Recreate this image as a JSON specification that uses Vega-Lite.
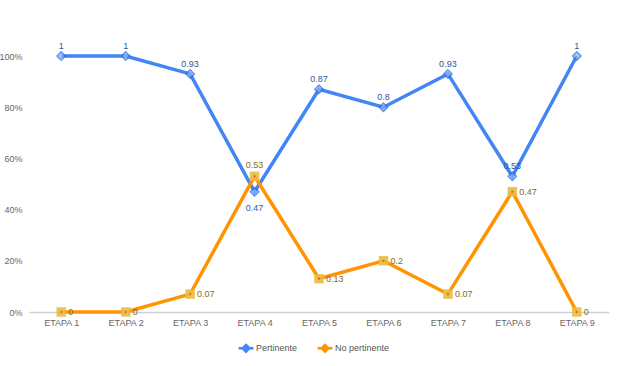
{
  "$schema": "https://vega.github.io/schema/vega-lite/v6.json",
  "width": 580,
  "height": 256,
  "autosize": {"type": "none"},
  "padding": {"left": 29, "top": 56, "right": 11, "bottom": 54},
  "background": "white",
  "config": {
    "view": {"stroke": null},
    "font": "Liberation Sans"
  },
  "data": {
    "values": [
      {"etapa": "ETAPA 1", "serie": "Pertinente", "valor": 1},
      {"etapa": "ETAPA 2", "serie": "Pertinente", "valor": 1},
      {"etapa": "ETAPA 3", "serie": "Pertinente", "valor": 0.93},
      {"etapa": "ETAPA 4", "serie": "Pertinente", "valor": 0.47},
      {"etapa": "ETAPA 5", "serie": "Pertinente", "valor": 0.87},
      {"etapa": "ETAPA 6", "serie": "Pertinente", "valor": 0.8},
      {"etapa": "ETAPA 7", "serie": "Pertinente", "valor": 0.93},
      {"etapa": "ETAPA 8", "serie": "Pertinente", "valor": 0.53},
      {"etapa": "ETAPA 9", "serie": "Pertinente", "valor": 1},
      {"etapa": "ETAPA 1", "serie": "No pertinente", "valor": 0},
      {"etapa": "ETAPA 2", "serie": "No pertinente", "valor": 0},
      {"etapa": "ETAPA 3", "serie": "No pertinente", "valor": 0.07},
      {"etapa": "ETAPA 4", "serie": "No pertinente", "valor": 0.53},
      {"etapa": "ETAPA 5", "serie": "No pertinente", "valor": 0.13},
      {"etapa": "ETAPA 6", "serie": "No pertinente", "valor": 0.2},
      {"etapa": "ETAPA 7", "serie": "No pertinente", "valor": 0.07},
      {"etapa": "ETAPA 8", "serie": "No pertinente", "valor": 0.47},
      {"etapa": "ETAPA 9", "serie": "No pertinente", "valor": 0}
    ]
  },
  "encoding": {
    "x": {
      "field": "etapa", "type": "nominal", "sort": null,
      "scale": {"type": "point", "padding": 0.5},
      "axis": {"title": null, "labelAngle": 0, "ticks": false, "domainColor": "#d0d0d0", "domainWidth": 1.5,
               "labelColor": "#666", "labelFontSize": 9, "labelPadding": 6}
    },
    "y": {
      "field": "valor", "type": "quantitative",
      "scale": {"domain": [0, 1]},
      "axis": {"title": null, "format": ".0%", "values": [0, 0.2, 0.4, 0.6, 0.8, 1], "grid": false, "domain": false,
               "ticks": false, "labelColor": "#666", "labelFontSize": 9, "labelPadding": 7}
    }
  },
  "layer": [
    {
      "mark": {"type": "line", "strokeWidth": 3.5},
      "encoding": {
        "color": {
          "field": "serie", "type": "nominal",
          "scale": {"domain": ["Pertinente", "No pertinente"], "range": ["#4285f4", "#ff9400"]},
          "legend": {"title": null, "orient": "none", "direction": "horizontal", "legendX": 208, "legendY": 283,
                     "symbolType": "M-1,0H1M0,-0.45L0.45,0L0,0.45L-0.45,0Z", "symbolSize": 220, "symbolStrokeWidth": 2.5,
                     "labelFontSize": 9, "labelColor": "#555", "labelOffset": 1, "columnPadding": 14}
        }
      }
    },
    {
      "transform": [{"filter": "datum.serie == 'Pertinente'"}],
      "mark": {"type": "point", "shape": "diamond", "filled": true, "size": 70, "color": "#8ab4f8", "stroke": "#2a6ae0", "strokeWidth": 1.5}
    },
    {
      "transform": [{"filter": "datum.serie == 'No pertinente'"}],
      "mark": {"type": "point", "shape": "square", "filled": true, "size": 90, "color": "#e8bd45", "opacity": 0.9}
    },
    {
      "transform": [{"filter": "datum.serie == 'No pertinente'"}],
      "mark": {"type": "point", "shape": "circle", "filled": true, "size": 5, "color": "#e53935"}
    },
    {
      "transform": [{"filter": "datum.serie == 'Pertinente' && datum.etapa != 'ETAPA 4'"}],
      "mark": {"type": "text", "dy": -10, "fontSize": 9, "color": "#2d55a8"},
      "encoding": {"text": {"field": "valor", "type": "quantitative"}}
    },
    {
      "transform": [{"filter": "datum.serie == 'Pertinente' && datum.etapa == 'ETAPA 4'"}],
      "mark": {"type": "text", "dy": 16, "fontSize": 9, "color": "#2d55a8"},
      "encoding": {"text": {"field": "valor", "type": "quantitative"}}
    },
    {
      "transform": [{"filter": "datum.serie == 'No pertinente' && datum.etapa != 'ETAPA 4'"}],
      "mark": {"type": "text", "dx": 7, "align": "left", "baseline": "middle", "fontSize": 9, "color": "#8a6a1c"},
      "encoding": {"text": {"field": "valor", "type": "quantitative"}}
    },
    {
      "transform": [{"filter": "datum.serie == 'No pertinente' && datum.etapa == 'ETAPA 4'"}],
      "mark": {"type": "text", "dy": -11, "fontSize": 9, "color": "#8a6a1c"},
      "encoding": {"text": {"field": "valor", "type": "quantitative"}}
    }
  ]
}
